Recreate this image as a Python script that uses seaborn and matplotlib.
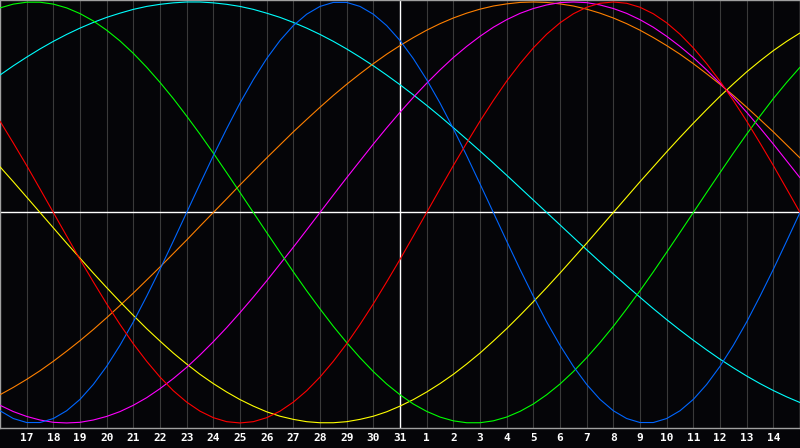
import matplotlib
matplotlib.use("Agg")
import matplotlib.pyplot as plt
import seaborn as sns
import pandas as pd

# half-day positions relative to the centre (white) line, which is the 31st
days = [i / 2 for i in range(-30, 31)]
tick_days = list(range(-14, 15))
tick_labels = [str(d) for d in range(17, 32)] + [str(d) for d in range(1, 15)]

# values every half day (+1 top, -1 bottom)
physical = [-0.942, -0.979, -0.998, -0.998, -0.979, -0.942, -0.888, -0.817, -0.731, -0.631,
            -0.520, -0.398, -0.270, -0.136, 0.0, 0.136, 0.270, 0.398, 0.520, 0.631, 0.731,
            0.817, 0.888, 0.942, 0.979, 0.998, 0.998, 0.979, 0.942, 0.888, 0.817, 0.731,
            0.631, 0.520, 0.398, 0.270, 0.136, 0.0, -0.136, -0.270, -0.398, -0.520, -0.631,
            -0.731, -0.817, -0.888, -0.942, -0.979, -0.998, -0.998, -0.979, -0.942, -0.888,
            -0.817, -0.731, -0.631, -0.520, -0.398, -0.270, -0.136, 0.0]
emotional = [0.434, 0.330, 0.223, 0.112, 0.0, -0.112, -0.223, -0.330, -0.434, -0.532,
             -0.624, -0.707, -0.782, -0.847, -0.901, -0.944, -0.975, -0.994, -1.0, -0.994,
             -0.975, -0.944, -0.901, -0.847, -0.782, -0.707, -0.624, -0.532, -0.434, -0.330,
             -0.223, -0.112, 0.0, 0.112, 0.223, 0.330, 0.434, 0.532, 0.624, 0.707, 0.782,
             0.847, 0.901, 0.944, 0.975, 0.994, 1.0, 0.994, 0.975, 0.944, 0.901, 0.847,
             0.782, 0.707, 0.624, 0.532, 0.434, 0.330, 0.223, 0.112, 0.0]
intellectual = [0.972, 0.990, 0.999, 0.999, 0.990, 0.972, 0.945, 0.910, 0.866, 0.815,
                0.756, 0.690, 0.618, 0.541, 0.458, 0.372, 0.282, 0.189, 0.095, 0.0, -0.095,
                -0.189, -0.282, -0.372, -0.458, -0.541, -0.618, -0.690, -0.756, -0.815,
                -0.866, -0.910, -0.945, -0.972, -0.990, -0.999, -0.999, -0.990, -0.972,
                -0.945, -0.910, -0.866, -0.815, -0.756, -0.690, -0.618, -0.541, -0.458,
                -0.372, -0.282, -0.189, -0.095, 0.0, 0.095, 0.189, 0.282, 0.372, 0.458,
                0.541, 0.618, 0.690]
intuitive = [-0.916, -0.946, -0.969, -0.986, -0.997, -1.0, -0.997, -0.986, -0.969, -0.946,
             -0.916, -0.880, -0.837, -0.789, -0.736, -0.677, -0.614, -0.547, -0.476, -0.402,
             -0.325, -0.245, -0.165, -0.083, 0.0, 0.083, 0.165, 0.245, 0.325, 0.402, 0.476,
             0.547, 0.614, 0.677, 0.736, 0.789, 0.837, 0.880, 0.916, 0.946, 0.969, 0.986,
             0.997, 1.0, 0.997, 0.986, 0.969, 0.946, 0.916, 0.880, 0.837, 0.789, 0.736,
             0.677, 0.614, 0.547, 0.476, 0.402, 0.325, 0.245, 0.165]
aesthetic = [0.217, 0.146, 0.073, 0.0, -0.073, -0.146, -0.217, -0.288, -0.357, -0.424,
             -0.489, -0.552, -0.611, -0.668, -0.720, -0.769, -0.813, -0.853, -0.889, -0.920,
             -0.947, -0.968, -0.983, -0.994, -0.999, -0.999, -0.994, -0.983, -0.968, -0.947,
             -0.920, -0.889, -0.853, -0.813, -0.769, -0.720, -0.668, -0.611, -0.552, -0.489,
             -0.424, -0.357, -0.288, -0.217, -0.146, -0.073, 0.0, 0.073, 0.146, 0.217, 0.288,
             0.357, 0.424, 0.489, 0.552, 0.611, 0.668, 0.720, 0.769, 0.813, 0.853]
awareness = [-0.866, -0.831, -0.793, -0.752, -0.707, -0.659, -0.609, -0.556, -0.500, -0.442,
             -0.383, -0.321, -0.259, -0.195, -0.131, -0.065, 0.0, 0.065, 0.131, 0.195, 0.259,
             0.321, 0.383, 0.442, 0.500, 0.556, 0.609, 0.659, 0.707, 0.752, 0.793, 0.831,
             0.866, 0.897, 0.924, 0.947, 0.966, 0.981, 0.991, 0.998, 1.0, 0.998, 0.991, 0.981,
             0.966, 0.947, 0.924, 0.897, 0.866, 0.831, 0.793, 0.752, 0.707, 0.659, 0.609,
             0.556, 0.500, 0.442, 0.383, 0.321, 0.259]
spiritual = [0.653, 0.697, 0.738, 0.777, 0.813, 0.846, 0.876, 0.903, 0.927, 0.947, 0.965,
             0.979, 0.989, 0.996, 1.0, 1.0, 0.996, 0.989, 0.979, 0.965, 0.947, 0.927, 0.903,
             0.876, 0.846, 0.813, 0.777, 0.738, 0.697, 0.653, 0.607, 0.559, 0.509, 0.457,
             0.403, 0.348, 0.292, 0.235, 0.177, 0.118, 0.059, 0.0, -0.059, -0.118, -0.177,
             -0.235, -0.292, -0.348, -0.403, -0.457, -0.509, -0.559, -0.607, -0.653, -0.697,
             -0.738, -0.777, -0.813, -0.846, -0.876, -0.903]

series = {
    "spiritual": spiritual,
    "awareness": awareness,
    "aesthetic": aesthetic,
    "intuitive": intuitive,
    "intellectual": intellectual,
    "physical": physical,
    "emotional": emotional,
}
colors = {
    "physical": "#0066ff",
    "emotional": "#ff0000",
    "intellectual": "#00ff00",
    "intuitive": "#ff00ff",
    "aesthetic": "#ffff00",
    "awareness": "#ff8000",
    "spiritual": "#00ffff",
}

rows = []
for name, vals in series.items():
    for d, v in zip(days, vals):
        rows.append({"day": d, "value": v, "cycle": name})
df = pd.DataFrame(rows)

sns.set_style("dark")
plt.rcParams["font.family"] = ["DejaVu Sans Mono", "DejaVu Sans"]

bg = "#050508"
fig = plt.figure(figsize=(8, 4.48), dpi=100, facecolor=bg)
ax = fig.add_axes([0, 20 / 448, 1, 428 / 448])
ax.set_facecolor(bg)

for d in tick_days:
    if d != 0:
        ax.axvline(d, color="#3a3a3a", linewidth=0.8, zorder=1)

sns.lineplot(data=df, x="day", y="value", hue="cycle", palette=colors,
             hue_order=list(series.keys()), legend=False, ax=ax,
             linewidth=0.8, estimator=None, zorder=3)

ax.axhline(0, color="white", linewidth=1.0, zorder=2)
ax.axvline(0, color="white", linewidth=1.0, zorder=2)

ax.set_xlim(-15, 15)
ax.set_ylim(-1.024, 1.0095)
ax.set_yticks([])
ax.set_xticks(tick_days)
ax.set_xticklabels(tick_labels, color="white", fontsize=8, fontweight="bold")
ax.tick_params(axis="x", length=0, pad=3.5)
ax.set_xlabel("")
ax.set_ylabel("")
ax.grid(False)
for s in ax.spines.values():
    s.set_visible(True)
    s.set_color("#a0a0a0")
    s.set_linewidth(1.0)

fig.savefig("out.png", dpi=100, facecolor=bg)
plt.close(fig)
